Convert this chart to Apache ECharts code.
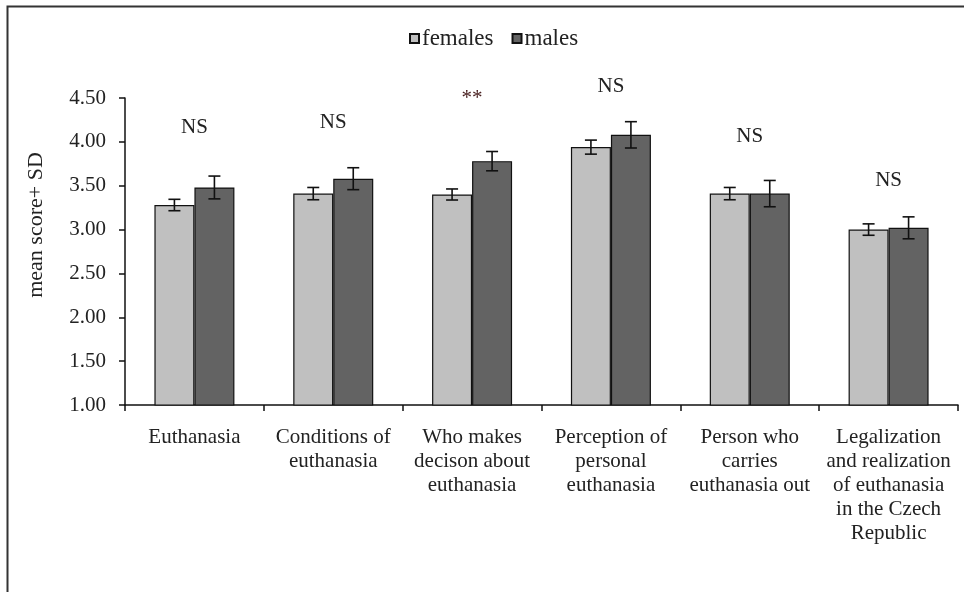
<!DOCTYPE html>
<html>
<head>
<meta charset="utf-8">
<script src="https://cdn.jsdelivr.net/npm/echarts@6/dist/echarts.min.js"></script>
<style>
  html, body { margin: 0; padding: 0; background: #fff; }
  #chart { width: 964px; height: 592px; }
</style>
</head>
<body>
<div id="chart"></div>
<script>
// Attitude domains (x axis categories)
var categories = [
  'Euthanasia',
  'Conditions of\neuthanasia',
  'Who makes\ndecison about\neuthanasia',
  'Perception of\npersonal\neuthanasia',
  'Person who\ncarries\neuthanasia out',
  'Legalization\nand realization\nof euthanasia\nin the Czech\nRepublic'
];

// Mean scores and SD per group
var femalesMean = [3.28, 3.41, 3.40, 3.94, 3.41, 3.00];
var femalesSD   = [0.065, 0.07, 0.063, 0.08, 0.07, 0.065];
var malesMean   = [3.48, 3.58, 3.78, 4.08, 3.41, 3.02];
var malesSD     = [0.13, 0.125, 0.11, 0.15, 0.15, 0.125];

// Significance marks and the score level each is written at
var sigText  = ['NS', 'NS', '**', 'NS', 'NS', 'NS'];
var sigLevel = [4.16, 4.22, 4.50, 4.63, 4.06, 3.565];

var FONT = '"Liberation Serif", "Times New Roman", serif';
var BAR_W = 40;

var chart = echarts.init(document.getElementById('chart'), null, { renderer: 'canvas' });

function errorBars(means, sds, side) {
  return {
    type: 'custom',
    name: 'err' + side,
    silent: true,
    z: 5,
    data: means.map(function (m, i) { return [i, m - sds[i], m + sds[i]]; }),
    renderItem: function (params, api) {
      var lo = api.coord([api.value(0), api.value(1)]);
      var hi = api.coord([api.value(0), api.value(2)]);
      var x = lo[0] + side * BAR_W / 2;
      var cap = 6;
      var st = { stroke: '#111', lineWidth: 1.6 };
      return {
        type: 'group',
        children: [
          { type: 'line', shape: { x1: x, y1: lo[1], x2: x, y2: hi[1] }, style: st },
          { type: 'line', shape: { x1: x - cap, y1: lo[1], x2: x + cap, y2: lo[1] }, style: st },
          { type: 'line', shape: { x1: x - cap, y1: hi[1], x2: x + cap, y2: hi[1] }, style: st }
        ]
      };
    }
  };
}

var option = {
  animation: false,
  backgroundColor: '#fff',
  textStyle: { fontFamily: FONT },
  graphic: [
    {
      type: 'rect',
      left: 5, top: 4,
      shape: { width: 1000, height: 700 },
      style: { fill: 'none', stroke: '#333', lineWidth: 2 },
      z: -1
    },
    {
      type: 'text',
      x: 36, y: 225,
      rotation: Math.PI / 2,
      style: {
        text: 'mean score+ SD',
        font: '22px ' + FONT,
        fill: '#222',
        align: 'center',
        verticalAlign: 'middle'
      }
    }
  ],
  legend: {
    data: ['females', 'males'],
    top: 22,
    left: 404,
    icon: 'rect',
    itemWidth: 9,
    itemHeight: 9,
    itemGap: 18,
    textStyle: { fontFamily: FONT, fontSize: 23, color: '#222', padding: [0, 0, 0, -2] }
  },
  grid: { left: 125, right: 6, top: 98, bottom: 187, containLabel: false },
  xAxis: {
    type: 'category',
    data: categories,
    axisLine: { lineStyle: { color: '#111', width: 1.5 } },
    axisTick: { show: true, length: 6, lineStyle: { color: '#111', width: 1.5 } },
    axisLabel: {
      interval: 0,
      margin: 20,
      color: '#222',
      fontFamily: FONT,
      fontSize: 21,
      lineHeight: 24
    }
  },
  yAxis: {
    type: 'value',
    min: 1.0,
    max: 4.5,
    interval: 0.5,
    splitLine: { show: false },
    axisLine: { show: true, lineStyle: { color: '#111', width: 1.5 } },
    axisTick: { show: true, length: 6, lineStyle: { color: '#111', width: 1.5 } },
    axisLabel: {
      margin: 19,
      color: '#222',
      fontFamily: FONT,
      fontSize: 21,
      formatter: function (v) { return v.toFixed(2); }
    }
  },
  series: [
    {
      name: 'females',
      type: 'bar',
      data: femalesMean,
      barWidth: BAR_W,
      barGap: '0%',
      itemStyle: { color: '#c0c0c0', borderColor: '#111', borderWidth: 1.2 }
    },
    {
      name: 'males',
      type: 'bar',
      data: malesMean,
      barWidth: BAR_W,
      barGap: '0%',
      itemStyle: { color: '#636363', borderColor: '#111', borderWidth: 1.2 }
    },
    errorBars(femalesMean, femalesSD, -1),
    errorBars(malesMean, malesSD, 1),
    {
      type: 'custom',
      name: 'sig',
      silent: true,
      z: 6,
      data: sigLevel.map(function (v, i) { return [i, v]; }),
      renderItem: function (params, api) {
        var p = api.coord([api.value(0), api.value(1)]);
        var t = sigText[params.dataIndex];
        return {
          type: 'text',
          x: p[0], y: p[1],
          style: {
            text: t,
            font: '21px ' + FONT,
            fill: t === '**' ? '#4a2222' : '#222',
            align: 'center',
            verticalAlign: 'middle'
          }
        };
      }
    }
  ]
};

chart.setOption(option);
</script>
</body>
</html>
